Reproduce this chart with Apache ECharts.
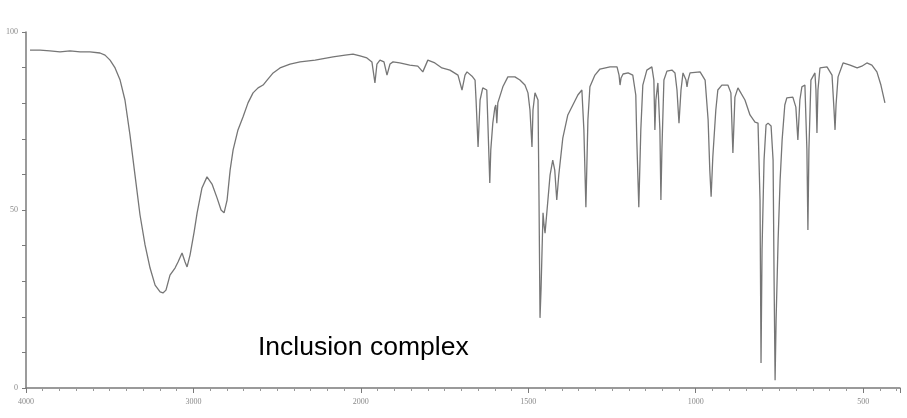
<!DOCTYPE html>
<html>
<head>
<meta charset="utf-8">
<script src="https://cdn.jsdelivr.net/npm/echarts@6/dist/echarts.min.js"></script>
<style>html,body{margin:0;padding:0;background:#fff}#c{width:907px;height:418px}</style>
</head>
<body>
<div id="c"></div>
<script>
// Wavenumber (cm-1) and transmittance (%)
const wavenumbers = [3976,3916,3857,3797,3737,3677,3618,3558,3528,3498,3468,3438,3409,3379,3349,3319,3289,3259,3229,3199,3182,3164,3140,3110,3092,3068,3050,3038,3020,2996,2978,2949,2919,2889,2859,2835,2817,2799,2781,2763,2734,2704,2674,2644,2614,2584,2560,2524,2483,2423,2363,2273,2166,2094,2047,2005,
1982,1967,1958,1952,1943,1931,1922,1913,1904,1884,1854,1830,1815,1800,1779,1758,1734,1710,1698,1689,1683,1668,1659,1656,1650,1644,1636,1624,1621,1615,1612,1606,1600,1597,1594,1591,1576,1561,1540,1525,1510,1501,1495,1489,1486,1480,1471,1468,1465,1462,1456,1453,1450,1444,1435,1427,1421,1415,1409,1397,1382,1367,1352,1340,1334,1328,1322,1316,1301,1286,1256,1235,1229,1226,1223,1217,1202,1188,1179,1176,1170,1164,1158,1146,1131,1125,1122,1119,1113,1107,1104,1101,1095,1086,1071,1062,1056,1050,1044,1038,1029,1026,1023,1017,987,972,963,958,954,949,940,934,922,904,895,889,883,874,853,838,823,814,808,805,802,796,790,784,775,769,766,763,760,754,748,742,734,728,710,701,695,689,683,674,668,665,662,656,644,641,638,635,629,608,593,587,584,581,575,560,539,518,504,489,474,459,447,435];
const transmittance = [94.9,94.9,94.7,94.4,94.7,94.4,94.4,94.1,93.5,92.1,89.9,86.5,80.9,71.1,59.8,48.6,40.2,33.7,28.9,27.0,26.7,27.5,31.7,33.7,35.4,37.9,35.4,34.0,37.4,43.8,49.2,56.2,59.3,57.3,53.4,50.0,49.2,52.8,61.2,66.9,72.5,76.1,80.1,82.9,84.3,85.1,86.5,88.5,89.9,91.0,91.6,92.1,93.0,93.5,93.8,93.3,
92.7,91.6,85.7,91.0,92.1,91.6,87.9,91.0,91.6,91.3,90.7,90.4,88.8,92.1,91.3,89.9,89.3,87.9,83.7,87.9,88.8,87.6,86.5,80.9,67.7,80.9,84.3,83.7,75.3,57.6,66.9,74.4,78.7,79.5,74.4,80.1,84.6,87.4,87.4,86.5,85.1,82.9,78.1,67.7,78.1,82.9,80.9,52.8,19.7,27.5,49.2,45.8,43.5,50.0,59.8,64.0,61.2,52.8,59.8,70.2,76.7,79.5,82.3,83.7,72.5,50.8,75.3,84.6,87.9,89.6,90.2,90.2,87.9,85.1,87.1,88.2,88.5,87.9,82.3,69.7,50.8,72.5,85.1,89.3,90.2,86.5,72.5,80.9,85.7,72.5,52.8,66.9,86.5,89.0,89.3,88.5,83.7,74.4,83.7,88.5,86.5,84.6,86.5,88.5,88.8,86.5,75.3,61.2,53.7,64.9,78.1,83.7,85.1,85.1,82.9,66.0,81.7,84.3,80.9,76.7,74.7,74.4,52.8,7.0,38.8,64.0,73.9,74.4,73.6,64.0,30.3,2.2,19.1,41.6,58.4,69.7,79.5,81.5,81.7,78.9,69.7,80.9,84.6,85.1,66.9,44.4,66.9,86.5,88.5,83.7,71.6,83.7,89.9,90.2,87.9,78.1,72.5,79.5,87.4,91.3,90.7,89.9,90.4,91.3,90.7,88.8,85.1,80.1];
const xTickLabels = [4000,3000,2000,1500,1000,500];
const yTickLabels = [0,50,100];
const title = 'Inclusion complex';

// Piecewise IR x scale: 1000 cm-1 per unit above 2000, 500 cm-1 per unit below
function toU(wn){ return wn >= 2000 ? (4000 - wn)/1000 : 2 + (2000 - wn)/500; }
function fromU(u){ return u <= 2 ? 4000 - u*1000 : 2000 - (u-2)*500; }

const data = wavenumbers.map((w,i)=>[toU(w), transmittance[i]]);

const chart = echarts.init(document.getElementById('c'), null, {renderer:'canvas'});
const axisCol = '#7a7a7a';
chart.setOption({
  animation:false,
  backgroundColor:'#fff',
  grid:{left:26, right:7, top:32, bottom:30, containLabel:false},
  xAxis:{
    type:'value', min:0, max:5.22, interval:1,
    axisLine:{show:true, lineStyle:{color:axisCol, width:1.5}},
    axisTick:{show:true, length:5, lineStyle:{color:axisCol}},
    minorTick:{show:true, splitNumber:10, length:3, lineStyle:{color:'#999'}},
    splitLine:{show:false},
    axisLabel:{color:'#8a8a8a', fontSize:8, fontFamily:'Liberation Serif', margin:10,
      showMaxLabel:false,
      formatter:function(v){
        const w = Math.round(fromU(v));
        return xTickLabels.indexOf(w) >= 0 && Math.abs(v-Math.round(v))<1e-6 ? String(w) : '';
      }}
  },
  yAxis:{
    type:'value', min:0, max:100, interval:10,
    axisLine:{show:true, lineStyle:{color:axisCol, width:1.5}},
    axisTick:{show:true, length:4, lineStyle:{color:axisCol}},
    splitLine:{show:false},
    axisLabel:{color:'#8a8a8a', fontSize:8, fontFamily:'Liberation Serif', margin:8,
      formatter:function(v){ return yTickLabels.indexOf(v) >= 0 ? String(v) : ''; }}
  },
  series:[{
    type:'line', data:data, showSymbol:false, symbol:'none',
    lineStyle:{color:'#767676', width:1.3}, smooth:false
  }],
  graphic:[{
    type:'text', left:258, top:334,
    style:{text:title, font:'26.5px "Liberation Sans", Arial, sans-serif', fill:'#000'}
  }]
});
</script>
</body>
</html>
